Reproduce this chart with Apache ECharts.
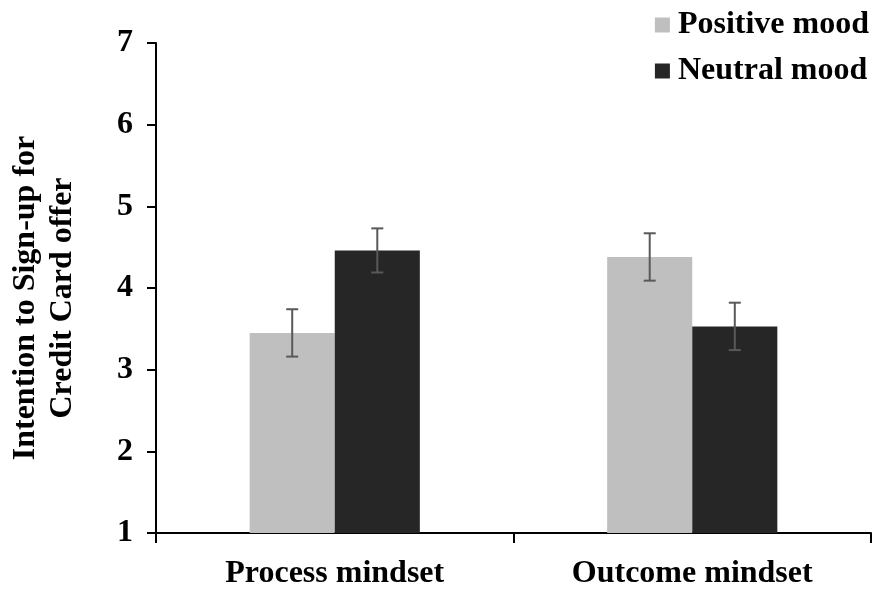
<!DOCTYPE html>
<html>
<head>
<meta charset="utf-8">
<script src="https://cdn.jsdelivr.net/npm/echarts@6/dist/echarts.min.js"></script>
<style>
  html, body { margin: 0; padding: 0; background: #fff; }
  #chart { width: 875px; height: 591px; }
</style>
</head>
<body>
<div id="chart"></div>
<script>
// Mean intention scores by mindset and mood condition, with standard errors
const categories = ['Process mindset', 'Outcome mindset'];
const seriesNames = ['Positive mood', 'Neutral mood'];
const positiveMood = [3.45, 4.38];
const neutralMood = [4.46, 3.53];
const positiveErr = [0.29, 0.29];
const neutralErr = [0.27, 0.29];
const yTicks = [1, 2, 3, 4, 5, 6, 7];
const yTitle = 'Intention to Sign-up for\nCredit Card offer';

const FONT = "'Liberation Serif', 'Times New Roman', serif";
const BAR_FRACTION = 0.238;

// Error bar drawn at the centre of the bar of a given group slot (-1 left, +1 right)
function errorBarRenderer(values, errs, slot) {
  return function (params, api) {
    const i = api.value(0);
    const catWidth = api.size([1, 0])[0];
    const dx = slot * catWidth * BAR_FRACTION / 2;
    const hi = api.coord([i, values[i] + errs[i]]);
    const lo = api.coord([i, values[i] - errs[i]]);
    const x = hi[0] + dx;
    const cap = 6;
    const style = { stroke: '#595959', lineWidth: 2 };
    return {
      type: 'group',
      children: [
        { type: 'line', shape: { x1: x, y1: hi[1], x2: x, y2: lo[1] }, style },
        { type: 'line', shape: { x1: x - cap, y1: hi[1], x2: x + cap, y2: hi[1] }, style },
        { type: 'line', shape: { x1: x - cap, y1: lo[1], x2: x + cap, y2: lo[1] }, style }
      ]
    };
  };
}

const chart = echarts.init(document.getElementById('chart'));
chart.setOption({
  animation: false,
  backgroundColor: '#fff',
  grid: { left: 156, right: 4, top: 43, bottom: 58, containLabel: false, outerBoundsMode: 'none' },
  legend: {
    data: seriesNames,
    orient: 'vertical',
    right: 1,
    top: 4,
    itemWidth: 15,
    itemHeight: 15,
    itemGap: 14,
    icon: 'rect',
    textStyle: { fontFamily: FONT, fontWeight: 'bold', fontSize: 32, lineHeight: 32, color: '#000', padding: [0, 0, 0, 3] }
  },
  graphic: [{
    type: 'text',
    x: 44,
    y: 298,
    rotation: Math.PI / 2,
    style: {
      text: yTitle,
      fontFamily: FONT, fontWeight: 'bold', fontSize: 32, lineHeight: 37,
      fill: '#000', align: 'center', verticalAlign: 'middle'
    }
  }],
  xAxis: {
    type: 'category',
    data: categories,
    axisLine: { lineStyle: { color: '#000', width: 2 } },
    axisTick: { show: true, length: 10, lineStyle: { color: '#000', width: 2 } },
    axisLabel: { fontFamily: FONT, fontWeight: 'bold', fontSize: 32, color: '#000', margin: 25 }
  },
  yAxis: {
    type: 'value',
    min: yTicks[0],
    max: yTicks[yTicks.length - 1],
    interval: 1,
    axisLine: { show: true, lineStyle: { color: '#000', width: 2 } },
    axisTick: { show: true, length: 9, lineStyle: { color: '#000', width: 2 } },
    splitLine: { show: false },
    axisLabel: { fontFamily: FONT, fontWeight: 'bold', fontSize: 32, color: '#000', margin: 23 }
  },
  series: [
    {
      name: seriesNames[0], type: 'bar', data: positiveMood,
      barWidth: (BAR_FRACTION * 100) + '%', barGap: '0%',
      itemStyle: { color: '#bfbfbf' }
    },
    {
      name: seriesNames[1], type: 'bar', data: neutralMood,
      barWidth: (BAR_FRACTION * 100) + '%', barGap: '0%',
      itemStyle: { color: '#262626' }
    },
    {
      type: 'custom', data: categories.map((c, i) => [i]),
      renderItem: errorBarRenderer(positiveMood, positiveErr, -1), z: 10, silent: true
    },
    {
      type: 'custom', data: categories.map((c, i) => [i]),
      renderItem: errorBarRenderer(neutralMood, neutralErr, 1), z: 10, silent: true
    }
  ]
});
</script>
</body>
</html>
